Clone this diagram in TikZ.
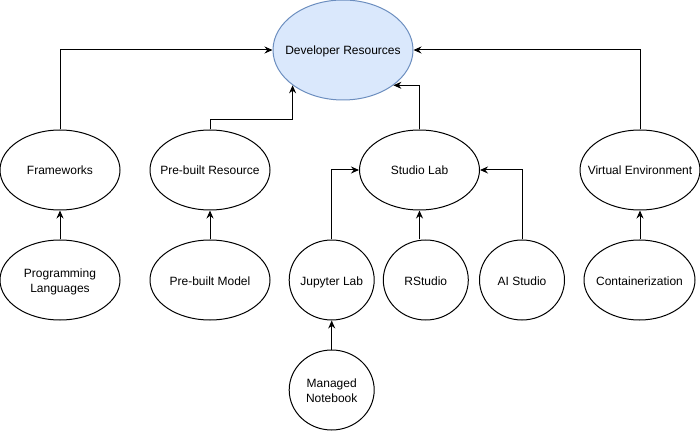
\documentclass[tikz,border=0pt]{standalone}
\usepackage{fontspec}
\setmainfont{Liberation Sans}
\usetikzlibrary{shapes.geometric,arrows.meta}
\newcommand\lab[1]{\makebox[0pt]{\raisebox{-3.75pt}[0pt][0pt]{\begin{tabular}{@{}c@{}}#1\end{tabular}}}}
\begin{document}
\begin{tikzpicture}[x=0.75pt,y=-0.75pt,
  el/.style={ellipse,draw=black,line width=0.75pt,inner sep=0pt,
    font=\fontsize{9}{11.25}\selectfont,minimum height=60pt},
  wide/.style={el,minimum width=90pt},
  narrow/.style={el,minimum width=63.75pt},
  conn/.style={line width=0.75pt,-{Stealth[length=6pt,width=5.25pt,inset=2pt]}}]
\useasboundingbox (0,0) rectangle (700,431);
\node[el,fill={rgb,255:red,218;green,232;blue,252},draw={rgb,255:red,108;green,142;blue,191},
  minimum width=105pt,minimum height=75pt] (dr) at (343,50) {\lab{Developer Resources}};
\node[wide] (fw) at (60,170) {\lab{Frameworks}};
\node[wide] (pr) at (210,170) {\lab{Pre-built Resource}};
\node[wide] (sl) at (419.5,170) {\lab{Studio Lab}};
\node[wide] (ve) at (640,170) {\lab{Virtual Environment}};
\node[wide] (pl) at (60,280) {\lab{Programming\\Languages}};
\node[wide] (pm) at (210,280) {\lab{Pre-built Model}};
\node[narrow] (jl) at (331.7,280) {\lab{Jupyter Lab}};
\node[narrow] (rs) at (425.8,280) {\lab{RStudio}};
\node[narrow] (ai) at (522,280) {\lab{AI Studio}};
\node[el,minimum width=83.25pt] (ct) at (639.5,280) {\lab{Containerization}};
\node[narrow] (mn) at (331.7,390) {\lab{Managed\\Notebook}};
\draw[conn] (fw.north) |- (dr.west);
\draw[conn] (ve.north) |- (dr.east);
\draw[conn] (pr.north) -- ++(0,-10) -| (dr.215);
\draw[conn] (sl.north) |- (dr.325);
\draw[conn] (jl.north) |- (sl.west);
\draw[conn] (ai.north) |- (sl.east);
\draw[conn] (rs.north -| sl.south) -- (sl.south);
\draw[conn] (pl) -- (fw);
\draw[conn] (pm) -- (pr);
\draw[conn] (mn) -- (jl);
\draw[conn] (ct.north -| ve.south) -- (ve.south);
\end{tikzpicture}
\end{document}
